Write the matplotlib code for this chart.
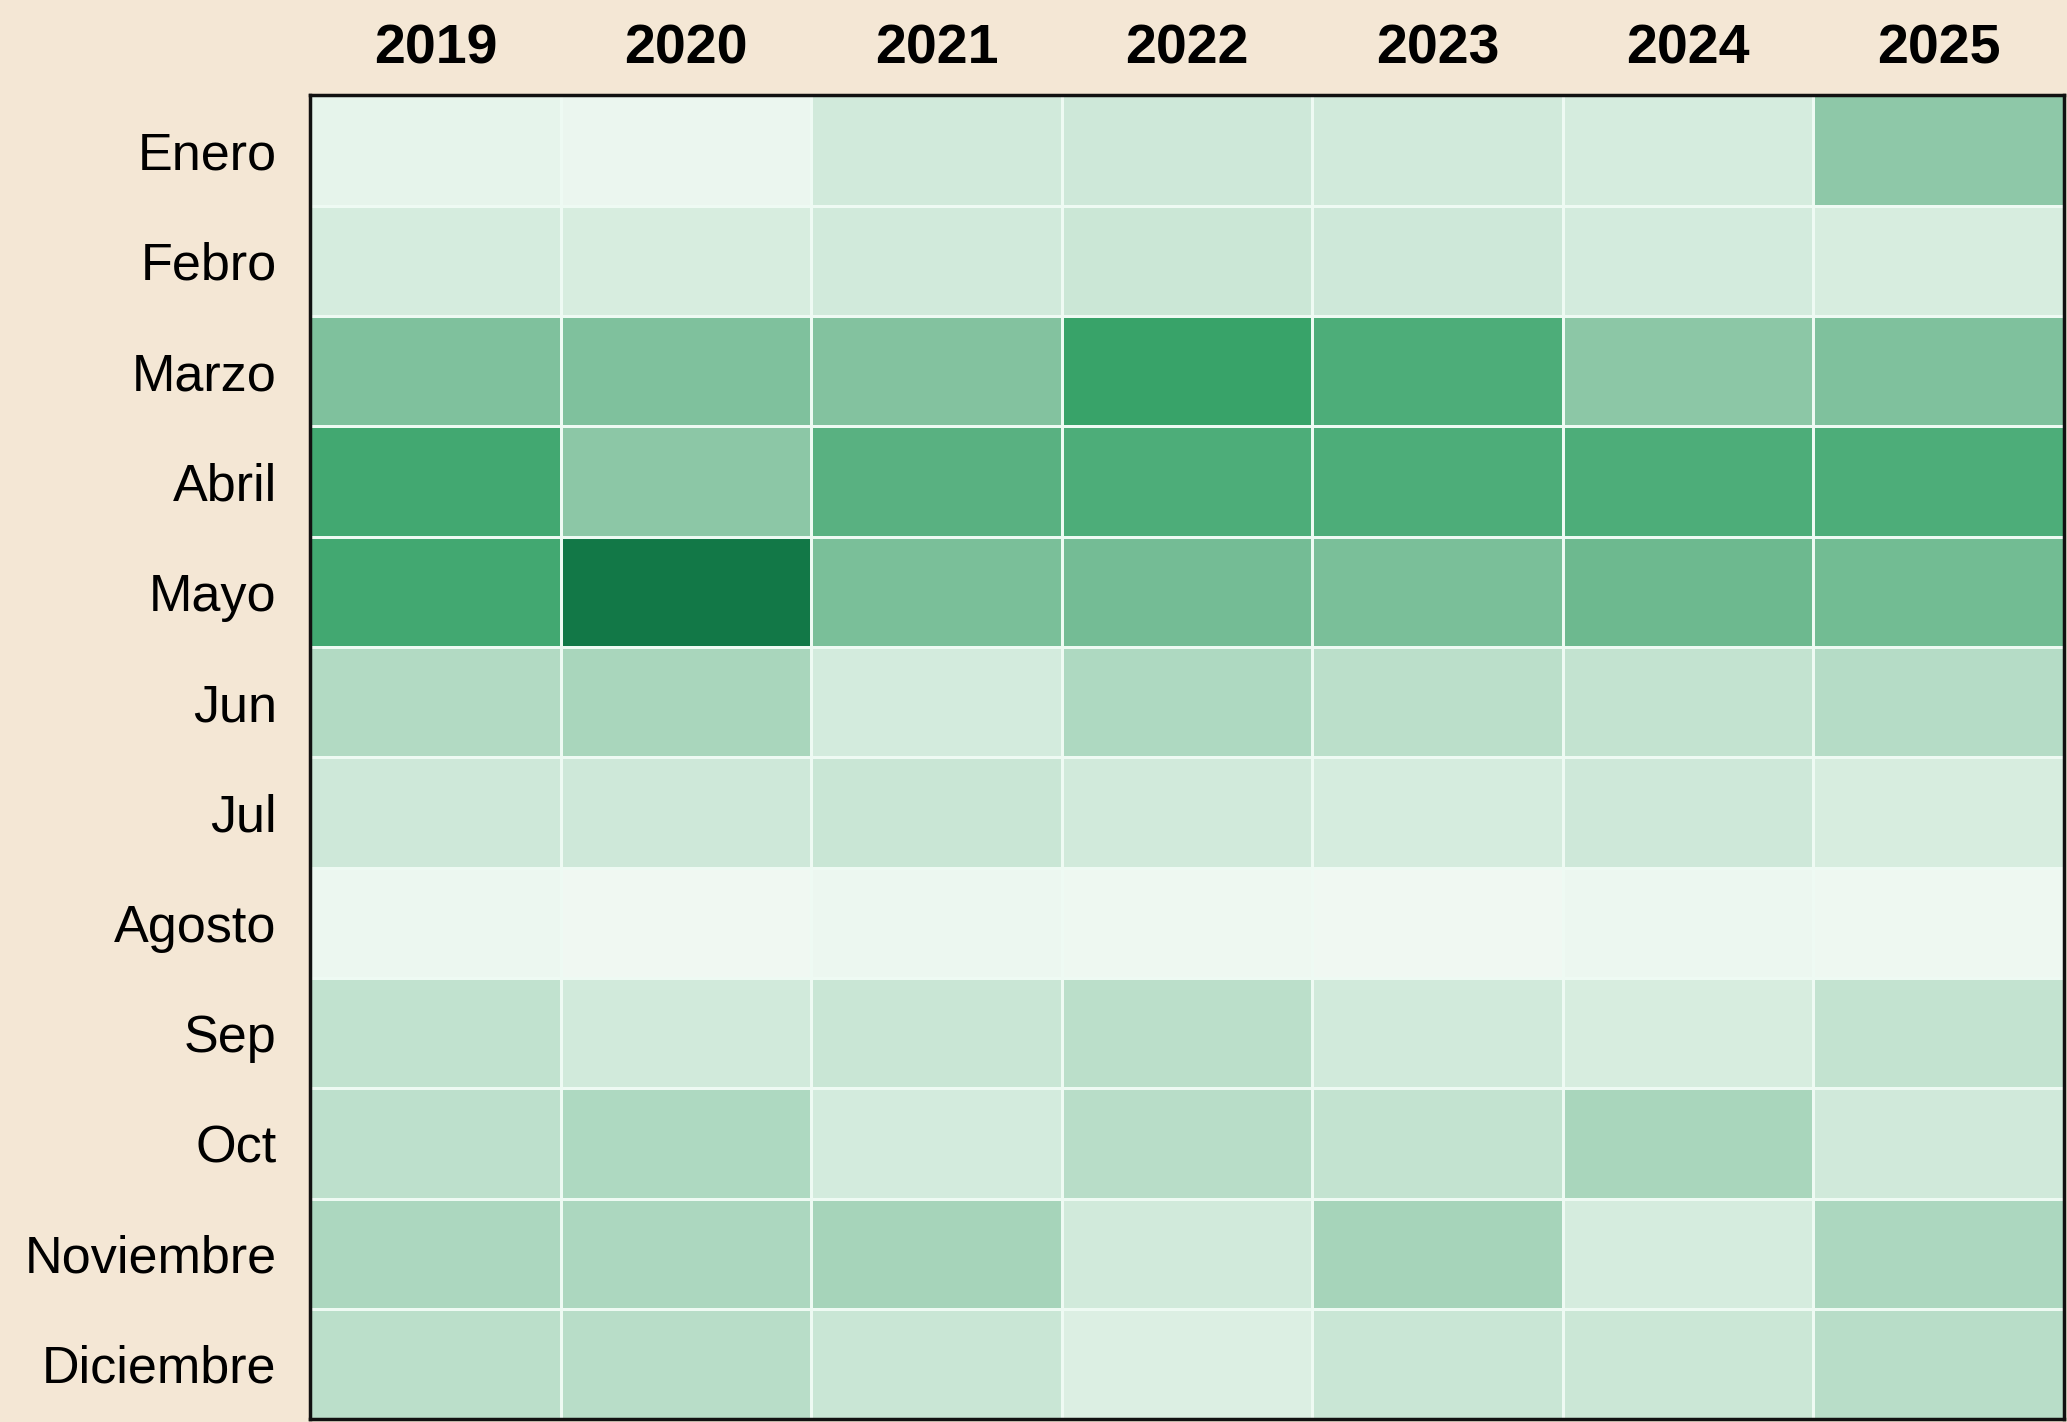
import numpy as np
import matplotlib.pyplot as plt
from matplotlib.colors import LinearSegmentedColormap

plt.rcParams['font.family'] = ['Liberation Sans', 'DejaVu Sans']

years = ['2019', '2020', '2021', '2022', '2023', '2024', '2025']
months = ['Enero', 'Febro', 'Marzo', 'Abril', 'Mayo', 'Jun', 'Jul',
          'Agosto', 'Sep', 'Oct', 'Noviembre', 'Diciembre']

# intensidad relativa (0-100) por mes y año
enero = [8, 5, 20, 22, 20, 18, 45]
febro = [18, 17, 20, 24, 22, 19, 17]
marzo = [50, 50, 49, 76, 68, 46, 50]
abril = [72, 46, 64, 68, 68, 68, 68]
mayo = [72, 96, 52, 54, 52, 57, 55]
jun = [33, 36, 19, 34, 30, 27, 32]
jul = [22, 22, 25, 20, 18, 22, 17]
agosto = [4, 2, 4, 3, 2, 4, 3]
sep = [28, 20, 25, 30, 20, 17, 27]
octu = [29, 34, 19, 31, 27, 36, 21]
nov = [35, 35, 37, 20, 37, 18, 35]
dic = [30, 31, 25, 14, 25, 24, 31]

data = np.array([enero, febro, marzo, abril, mayo, jun, jul,
                 agosto, sep, octu, nov, dic])

cmap = LinearSegmentedColormap.from_list(
    'verde', ['#f3faf5', '#c9e6d5', '#80c19d', '#3aa56b', '#0a7040'])

fig = plt.figure(figsize=(20.67, 14.22), dpi=100, facecolor='#f4e7d5')
ax = fig.add_axes([0.150, 0.002, 0.8485, 0.931])

ax.pcolormesh(data, cmap=cmap, vmin=0, vmax=100,
              edgecolors='#eefaf3', linewidth=2)
ax.set_xlim(0, len(years))
ax.set_ylim(len(months), 0)

ax.xaxis.tick_top()
ax.set_xticks(np.arange(len(years)) + 0.5)
ax.set_xticklabels(years, fontsize=40, fontweight='bold')
ax.set_yticks(np.arange(len(months)) + 0.5)
ax.set_yticklabels(months, fontsize=37.5)
ax.tick_params(axis='x', length=0, pad=14)
ax.tick_params(axis='y', length=0, pad=24)

for s in ax.spines.values():
    s.set_linewidth(2.5)
    s.set_color('#111111')

fig.savefig('out.png', dpi=100, facecolor=fig.get_facecolor())
